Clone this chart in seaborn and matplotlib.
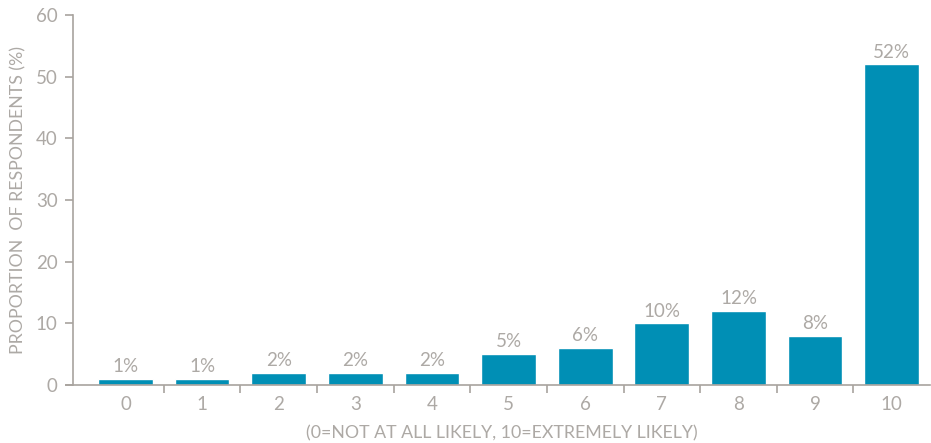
import matplotlib
matplotlib.use("Agg")
import matplotlib.pyplot as plt
import seaborn as sns
import pandas as pd
from matplotlib.ticker import FixedLocator

scores = ["0", "1", "2", "3", "4", "5", "6", "7", "8", "9", "10"]
values = [1, 1, 2, 2, 2, 5, 6, 10, 12, 8, 52]
labels = ["1%", "1%", "2%", "2%", "2%", "5%", "6%", "10%", "12%", "8%", "52%"]

bar_color = "#008FB5"
text_color = "#ADA9A5"
axis_color = "#A8A39E"

sns.set_theme(style="white")
plt.rcParams['font.family'] = ['Lato', 'DejaVu Sans']

df = pd.DataFrame({"score": scores, "value": values})

fig = plt.figure(figsize=(9.31, 4.43), dpi=100)
ax = fig.add_axes([73/931, 58/443, (930-73)/931, 370/443])

sns.barplot(data=df, x="score", y="value", color=bar_color, width=0.715,
            saturation=1, ax=ax)

for i, (v, lab) in enumerate(zip(values, labels)):
    ax.text(i, v + 0.6, lab, ha="center", va="bottom", fontsize=13.5,
            color=text_color)

ax.set_xlim(-0.685, 10.5)
ax.set_ylim(0, 60)
ax.set_yticks([0, 10, 20, 30, 40, 50, 60])

for s in ["top", "right"]:
    ax.spines[s].set_visible(False)
for s in ["left", "bottom"]:
    ax.spines[s].set_color(axis_color)
    ax.spines[s].set_linewidth(1.2)

ax.tick_params(axis="y", which="major", direction="out", length=6, width=1.2,
               color=axis_color, labelcolor=text_color, labelsize=13.5, left=True, pad=5)
ax.tick_params(axis="x", which="major", length=0, labelcolor=text_color,
               labelsize=13.5, pad=8)
ax.xaxis.set_minor_locator(FixedLocator([i + 0.5 for i in range(10)]))
ax.tick_params(axis="x", which="minor", direction="out", length=6, width=1.2,
               color=axis_color, bottom=True)

ax.set_xlabel("(0=NOT AT ALL LIKELY, 10=EXTREMELY LIKELY)", color=text_color,
              fontsize=12.8, labelpad=9)
ax.set_ylabel("PROPORTION  OF RESPONDENTS (%)", color=text_color,
              fontsize=12.8, labelpad=7)

# allow axis line to extend left of the y spine
ax.spines["bottom"].set_bounds(-0.77, 10.5)
ax.spines["bottom"].set_clip_on(False)

fig.savefig("out.png", dpi=100)
